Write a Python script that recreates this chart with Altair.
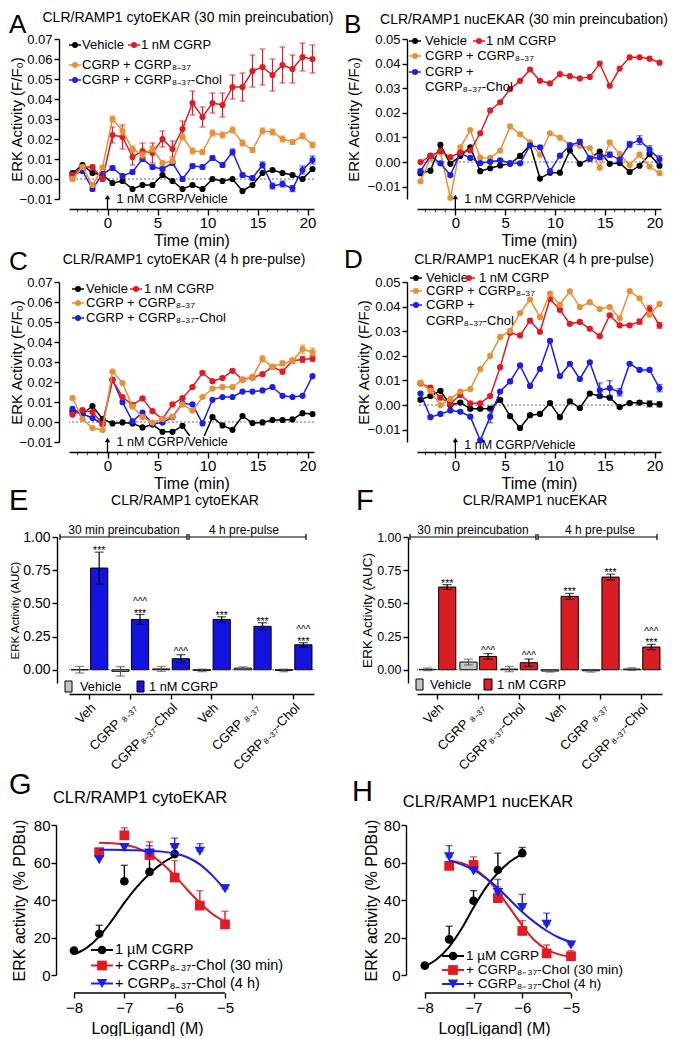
import altair as alt
import pandas as pd

FONT = "Liberation Sans"
BLACK = "#000000"
RED = "#e01b22"
ORANGE = "#ea8f33"
BLUE = "#1c1ee9"
GRAY = "#c4c4c4"
BAR_BLUE = "#1414e0"
BAR_RED = "#d81e22"

# ---------------- time courses (panels A-D) ----------------
TIMES = [-3.5, -2.5, -1.5, -0.5, 0.5, 1.5, 2.5, 3.5, 4.5, 5.5, 6.5, 7.5,
         8.5, 9.5, 10.5, 11.5, 12.5, 13.5, 14.5, 15.5, 16.5, 17.5, 18.5, 19.5, 20.5]
TIME_TICKS = [0, 5, 10, 15, 20]
MINOR_TICKS = [-3, -2, -1, 1, 2, 3, 4, 6, 7, 8, 9, 11, 12, 13, 14, 16, 17, 18, 19]

A_VEH = [0.003, 0.007, 0.003, 0.002, -0.002, -0.001, -0.005, -0.003, -0.003, 0.002, -0.001, -0.005,
         -0.003, -0.005, 0.000, -0.001, 0.000, -0.006, -0.003, 0.003, 0.0045, 0.003, 0.002, 0.000, 0.005]
A_CGRP = [0.002, 0.006, 0.006, 0.000, 0.022, 0.021, 0.011, 0.014, 0.013, 0.020, 0.015, 0.025,
          0.038, 0.031, 0.038, 0.037, 0.046, 0.046, 0.054, 0.056, 0.052, 0.057, 0.055, 0.061, 0.060]
A_CGRP_ERR = [0.001, 0.001, 0.001, 0.001, 0.004, 0.006, 0.004, 0.004, 0.005, 0.004, 0.004, 0.004,
              0.006, 0.005, 0.005, 0.006, 0.006, 0.007, 0.008, 0.009, 0.008, 0.009, 0.007, 0.007, 0.007]
A_837 = [0.000, 0.006, -0.003, 0.0057, 0.030, 0.024, 0.015, 0.012, 0.015, 0.008, 0.009, 0.021,
         0.014, 0.0135, 0.023, 0.022, 0.0245, 0.018, 0.0145, 0.024, 0.0235, 0.020, 0.0185, 0.0215, 0.017]
A_837_ERR = [0.001, 0.001, 0.001, 0.001, 0.0015, 0.002, 0.0015, 0.0015, 0.0015, 0.001, 0.001, 0.0015,
             0.0015, 0.0012, 0.0015, 0.0015, 0.0015, 0.0015, 0.0012, 0.0015, 0.0015, 0.0015, 0.0012, 0.0015, 0.0015]
A_CHOL = [0.002, 0.004, -0.005, 0.0025, 0.0055, 0.0015, 0.0035, 0.010, 0.006, 0.005, 0.008, 0.000,
          0.0065, 0.006, 0.0105, 0.007, 0.0135, 0.002, 0.0005, 0.007, -0.0035, -0.0025, -0.0048, 0.0045, 0.0095]
A_CHOL_ERR = [0.001, 0.001, 0.001, 0.001, 0.001, 0.001, 0.001, 0.001, 0.001, 0.001, 0.001, 0.001,
              0.001, 0.001, 0.001, 0.001, 0.0015, 0.001, 0.001, 0.0015, 0.0015, 0.0015, 0.0015, 0.002, 0.002]

B_VEH = [-0.0045, -0.0035, 0.007, -0.0007, 0.0025, 0.006, -0.0037, -0.0025, -0.0014, -0.0007, 0.0025, 0.007,
         -0.0067, -0.0043, -0.0043, 0.0047, -0.0007, 0.0014, 0.0043, -0.0007, -0.0004, -0.004, -0.0015, 0.0032, -0.0015]
B_CGRP = [0.000, 0.0025, 0.0045, 0.002, 0.004, 0.0047, 0.0117, 0.021, 0.0243, 0.0297, 0.033, 0.0376,
          0.033, 0.032, 0.0357, 0.0349, 0.034, 0.0346, 0.040, 0.031, 0.038, 0.0426, 0.0426, 0.042, 0.0404]
B_837 = [-0.0078, 0.0015, 0.004, -0.0145, 0.006, 0.013, 0.0018, 0.0017, 0.0047, 0.0145, 0.0113, 0.008,
         0.003, 0.0117, 0.0099, 0.007, 0.0065, 0.0057, -0.0023, 0.008, 0.0033, -0.0012, 0.003, -0.0018, -0.0045]
B_CHOL = [-0.0037, 0.0026, -0.0005, -0.0053, 0.0036, 0.0017, -0.0004, 0.0001, 0.0007, -0.0004, -0.0005, 0.0068,
          0.006, -0.0037, 0.0026, 0.0068, 0.0082, 0.0015, 0.002, 0.003, 0.001, 0.0072, 0.0089, 0.0051, 0.0011]
B_CHOL_ERR = [0.0005, 0.0005, 0.0005, 0.0005, 0.0005, 0.0005, 0.0005, 0.0005, 0.0005, 0.0005, 0.0005, 0.0005,
              0.0005, 0.0005, 0.0005, 0.0008, 0.001, 0.0005, 0.001, 0.001, 0.0005, 0.0012, 0.0018, 0.0015, 0.0015]

C_VEH = [0.0054, 0.004, 0.008, 0.0015, -0.0007, -0.0002, -0.0007, -0.0027, -0.0013, -0.0049, -0.0049, -0.0019,
         -0.009, -0.009, 0.0024, -0.0017, -0.0039, 0.003, -0.0005, -0.0002, 0.001, 0.001, 0.0013, 0.0044, 0.004]
C_CGRP = [0.0037, 0.006, 0.005, -0.001, 0.021, 0.0125, 0.0086, 0.0118, 0.0054, 0.0015, 0.0088, 0.012,
          0.0175, 0.0246, 0.0204, 0.022, 0.0256, 0.0212, 0.0222, 0.0239, 0.0276, 0.0252, 0.0306, 0.0313, 0.0318]
C_CGRP_ERR = [0.0005, 0.0005, 0.0005, 0.0005, 0.0005, 0.0005, 0.0005, 0.0005, 0.0005, 0.0005, 0.0005, 0.0005,
              0.0005, 0.0005, 0.0005, 0.0005, 0.0005, 0.001, 0.0008, 0.0008, 0.001, 0.0012, 0.0012, 0.0015, 0.0015]
C_837 = [0.012, 0.0015, -0.003, -0.004, 0.0252, 0.0195, 0.0077, 0.0024, -0.0003, 0.0015, 0.0027, 0.0088,
         0.0057, 0.0125, 0.0167, 0.0175, 0.0175, 0.0212, 0.0226, 0.0316, 0.0276, 0.0293, 0.0306, 0.0364, 0.035]
C_837_ERR = [0.0005, 0.0005, 0.0005, 0.0005, 0.0005, 0.0005, 0.0005, 0.0005, 0.0005, 0.0005, 0.0005, 0.0005,
             0.0005, 0.0005, 0.0005, 0.001, 0.001, 0.001, 0.001, 0.0015, 0.0012, 0.0012, 0.0012, 0.002, 0.002]
C_CHOL = [0.0066, 0.004, 0.002, -0.001, 0.0212, 0.0099, 0.0003, 0.0047, -0.001, -0.0003, 0.0024, 0.0094,
          0.0088, -0.0007, 0.0111, 0.0125, 0.0125, 0.0152, 0.0152, 0.0158, 0.0175, 0.0131, 0.0125, 0.0131, 0.0229]

D_VEH = [0.0022, 0.0037, 0.0058, 0.000, 0.001, -0.0015, -0.0015, -0.0014, 0.0021, -0.0045, -0.0093, -0.0041,
         -0.0036, 0.0008, -0.0049, 0.0015, -0.0012, 0.0047, 0.0037, 0.003, -0.0008, 0.0008, 0.001, 0.0005, 0.0003]
D_VEH_ERR = [0.0005, 0.0005, 0.0005, 0.0005, 0.0005, 0.0005, 0.0005, 0.0005, 0.0005, 0.0005, 0.0005, 0.0005,
             0.0005, 0.0005, 0.0005, 0.0005, 0.0005, 0.0005, 0.0005, 0.0005, 0.0005, 0.0005, 0.0008, 0.0012, 0.001]
D_CGRP = [0.0088, 0.0071, 0.003, 0.0005, 0.0041, 0.0007, 0.0007, 0.0037, 0.0154, 0.0294, 0.0283, 0.0343,
          0.0298, 0.0431, 0.0387, 0.033, 0.0338, 0.031, 0.028, 0.0365, 0.0324, 0.0324, 0.0339, 0.039, 0.0324]
D_CGRP_ERR = [0.0005, 0.0005, 0.0005, 0.0005, 0.0005, 0.0005, 0.0005, 0.0005, 0.0005, 0.0005, 0.0005, 0.0005,
              0.0005, 0.0005, 0.0005, 0.0005, 0.0005, 0.0005, 0.0005, 0.0005, 0.0005, 0.0005, 0.001, 0.0015, 0.0012]
D_837 = [0.0091, 0.0058, 0.000, 0.0025, 0.0055, 0.0065, 0.0146, 0.020, 0.0277, 0.0302, 0.0374, 0.0429,
         0.0357, 0.0453, 0.0408, 0.0462, 0.0398, 0.0418, 0.039, 0.0398, 0.0353, 0.0463, 0.0434, 0.0367, 0.0411]
D_CHOL = [0.0047, -0.0049, -0.0036, -0.0022, -0.0027, -0.0047, -0.0143, -0.0047, 0.0055, 0.0096, 0.0161, 0.0078,
          0.0147, 0.0261, 0.0118, 0.0168, 0.0106, 0.0174, 0.006, 0.0069, 0.0052, 0.0168, 0.0143, 0.0143, 0.0069]
D_CHOL_ERR = [0.0005, 0.0005, 0.0005, 0.0005, 0.0005, 0.0005, 0.0005, 0.0025, 0.0005, 0.0005, 0.0005, 0.0005,
              0.0005, 0.0005, 0.0005, 0.0005, 0.0005, 0.0005, 0.003, 0.003, 0.0015, 0.0005, 0.0005, 0.0005, 0.0015]

# ---------------- AUC bars (panels E-F) ----------------
BAR_CODES = ["p1", "p2", "p3", "h1", "h2", "h3"]
BAR_LABELS = ["Veh", "CGRP ₈₋₃₇", "CGRP₈₋₃₇-Chol", "Veh", "CGRP ₈₋₃₇", "CGRP₈₋₃₇-Chol"]
TREATMENTS = ["Vehicle", "1 nM CGRP"]

E_VEH = [0.000, -0.012, 0.006, -0.005, 0.012, -0.005]
E_VEH_ERR = [0.025, 0.035, 0.018, 0.010, 0.010, 0.010]
E_CGRP = [0.766, 0.379, 0.083, 0.379, 0.327, 0.188]
E_CGRP_ERR = [0.120, 0.037, 0.030, 0.020, 0.027, 0.016]
E_STARS = [True, True, False, True, True, True]
E_CARETS = [False, True, True, False, False, True]

F_VEH = [0.003, 0.058, 0.005, -0.010, -0.008, 0.005]
F_VEH_ERR = [0.010, 0.022, 0.020, 0.008, 0.010, 0.010]
F_CGRP = [0.623, 0.100, 0.053, 0.553, 0.698, 0.171]
F_CGRP_ERR = [0.018, 0.022, 0.028, 0.022, 0.022, 0.020]
F_STARS = [True, False, False, True, True, True]
F_CARETS = [False, True, True, False, False, True]

# ---------------- concentration-response (panels G-H) ----------------
CGRP_X = [-8, -7.5, -7, -6.5, -6]
CHOL_X = [-7.5, -7, -6.5, -6, -5.5, -5]
FIT_CGRP_X = [-8, -7.75, -7.5, -7.25, -7, -6.75, -6.5, -6.25, -6]
FIT_CHOL_X = [-7.5, -7.25, -7, -6.75, -6.5, -6.25, -6, -5.75, -5.5, -5.25, -5]

G_CGRP = [13, 22, 50, 55, 64.5]
G_CGRP_ERR = [0, 4.5, 8.5, 7.5, 1]
G_30 = [65.5, 74.5, 64, 52, 37, 27]
G_30_ERR = [0, 4, 7, 9, 8, 7]
G_4H = [61.5, 68, 65, 68, 66, 46]
G_4H_ERR = [0, 0, 4, 5, 4, 2]
G_FIT_CGRP = [11, 14.5, 20.5, 29, 38.5, 47, 54, 59.5, 63.5]
G_FIT_30 = [70.5, 70.3, 69.5, 67.8, 64.5, 59.5, 53, 45.5, 38.5, 32.5, 28.5]
G_FIT_4H = [66.8, 66.8, 66.7, 66.5, 66.3, 65.8, 64.8, 62.8, 59, 53, 45.5]

H_CGRP = [5, 19, 39.6, 56, 65]
H_CGRP_ERR = [0, 7, 5.4, 9, 3]
H_30 = [58.2, 58.7, 41, 23.5, 11.5, 10]
H_30_ERR = [0, 4.3, 6, 5.5, 4.5, 3]
H_4H = [63, 55.5, 44, 36, 27, 16]
H_4H_ERR = [6, 0, 7, 7, 6, 2]
H_FIT_CGRP = [4.5, 8.5, 15, 24.5, 36, 46.5, 54.5, 60.5, 64.5]
H_FIT_30 = [61, 59.8, 57, 51.8, 44.5, 35.5, 26.4, 18.5, 13.6, 11, 9.8]
H_FIT_4H = [61, 59, 56, 51.8, 46.4, 40, 33.6, 28.2, 23.6, 20, 17.5]

ONE = pd.DataFrame({"k": [0]})


def ax(**kw):
    d = dict(grid=False, domainColor="#000000", tickColor="#000000", labelColor="#000000",
             titleColor="#000000", labelFont=FONT, titleFont=FONT, titleFontWeight="normal",
             domainWidth=1.4, tickWidth=1.4, labelFlush=False, labelOverlap=False)
    d.update(kw)
    return alt.Axis(**d)


def text_at(s, x, y, size, align="left", baseline="alphabetic", color="#000000"):
    return alt.Chart(ONE).mark_text(text=s, align=align, baseline=baseline, fontSize=size,
                                    font=FONT, color=color).encode(x=alt.value(x), y=alt.value(y))


def letter_at(s, x, y, size):
    return text_at(s, x, y, size, baseline="top")


def hline(x1, x2, y, color="#000000", w=1.3):
    return alt.Chart(ONE).mark_rule(color=color, strokeWidth=w).encode(
        x=alt.value(x1), x2=alt.value(x2), y=alt.value(y))


def vline(x, y1, y2, color="#000000", w=1.3):
    return alt.Chart(ONE).mark_rule(color=color, strokeWidth=w).encode(
        x=alt.value(x), y=alt.value(y1), y2=alt.value(y2))


def symbol(x, y, color, shape="circle", size=36):
    return alt.Chart(ONE).mark_point(filled=True, opacity=1, shape=shape, size=size, color=color).encode(
        x=alt.value(x), y=alt.value(y))


def box(x1, x2, y1, y2, fill, stroke=None):
    kw = dict(color=fill)
    if stroke:
        kw.update(stroke=stroke, strokeWidth=1)
    return alt.Chart(ONE).mark_rect(**kw).encode(
        x=alt.value(x1), x2=alt.value(x2), y=alt.value(y1), y2=alt.value(y2))


def time_panel(series, ydom, yticks, width, height, letter, letter_xy, title, title_xy,
               legend, arrow_label_y, ytitle_x, mask=None):
    xs = alt.Scale(domain=[-3.85, 20.65], nice=False, zero=False)
    ys = alt.Scale(domain=ydom, nice=False, zero=False)
    xax = ax(values=TIME_TICKS, title="Time (min)", labelFontSize=15, titleFontSize=16, offset=10,
             tickSize=6, labelPadding=0, titlePadding=2)
    yax = ax(values=yticks, format=".2f", title="ERK Activity (F/F₀)", labelFontSize=13,
             titleFontSize=15, offset=10, tickSize=5, labelPadding=2, titleX=ytitle_x)
    X = alt.X("t:Q", scale=xs, axis=xax)
    layers = [alt.Chart(ONE).mark_rule(color="#444444", strokeWidth=0.8, strokeDash=[2, 2]).encode(
        y=alt.YDatum(0, scale=ys, axis=yax))]
    mdf = pd.DataFrame({"t": MINOR_TICKS})
    layers.append(alt.Chart(mdf).mark_tick(orient="vertical", size=3.5, thickness=1.2, color="#000000").encode(
        x=X, y=alt.value(height + 11.5)))
    for color, vals, errs in series:
        df = pd.DataFrame({"t": TIMES, "v": vals})
        layers.append(alt.Chart(df).mark_line(color=color, strokeWidth=1.5).encode(
            x=X, y=alt.Y("v:Q", scale=ys, axis=yax)))
        if errs is not None:
            edf = pd.DataFrame({"t": TIMES,
                                "lo": [v - e for v, e in zip(vals, errs)],
                                "hi": [v + e for v, e in zip(vals, errs)]})
            layers.append(alt.Chart(edf).mark_errorbar(ticks=True, size=6, thickness=1.2, color=color).encode(
                x=X, y=alt.Y("lo:Q", scale=ys, axis=yax), y2="hi:Q"))
        layers.append(alt.Chart(df).mark_point(filled=True, opacity=1, size=38, color=color).encode(
            x=X, y=alt.Y("v:Q", scale=ys, axis=yax)))
    X0 = alt.XDatum(0, scale=xs, axis=xax)
    layers.append(alt.Chart(ONE).mark_rule(color="#000000", strokeWidth=1.3).encode(
        x=X0, y=alt.value(height + 10), y2=alt.value(height - 2)))
    layers.append(alt.Chart(ONE).mark_point(shape="triangle-up", filled=True, opacity=1, size=28,
                                            color="#000000").encode(x=X0, y=alt.value(height - 2)))
    if mask:
        layers.append(box(*mask, "#ffffff"))
    layers.append(alt.Chart(ONE).mark_text(text="1 nM CGRP/Vehicle", align="left", dx=9, fontSize=12.5,
                                           font=FONT, baseline="alphabetic").encode(
        x=X0, y=alt.value(arrow_label_y)))
    for lab, col, sx, sy, tx in legend:
        if col:
            layers.append(hline(sx - 6, sx + 6, sy, col, 1.5))
            layers.append(symbol(sx, sy, col, "circle", 36))
        layers.append(text_at(lab, tx, sy, 13, baseline="middle"))
    layers.append(text_at(title, title_xy[0], title_xy[1], 14, align="center"))
    layers.append(letter_at(letter, letter_xy[0], letter_xy[1], 26))
    return alt.layer(*layers).properties(width=width, height=height)


def bar_panel(veh_m, veh_e, cg_m, cg_e, stars, carets, color, width, height, letter, letter_xy,
              title, title_xy, ylab_size, ytitle_size, yoff, ytitle_x, swatches, brackets):
    rows = []
    for i, c in enumerate(BAR_CODES):
        rows.append(dict(g=c, tr="Vehicle", m=veh_m[i], lo=veh_m[i] - veh_e[i], hi=veh_m[i] + veh_e[i],
                         st=False, ca=False))
        rows.append(dict(g=c, tr="1 nM CGRP", m=cg_m[i], lo=cg_m[i] - cg_e[i], hi=cg_m[i] + cg_e[i],
                         st=stars[i], ca=carets[i]))
    df = pd.DataFrame(rows)
    expr = " : ".join("datum.value == '%s' ? '%s'" % (c, l) for c, l in zip(BAR_CODES, BAR_LABELS)) + " : ''"
    xax = ax(title=None, labelAngle=315, labelExpr=expr, labelFontSize=13, offset=11, tickSize=5,
             labelPadding=2)
    ys = alt.Scale(domain=[-0.1, 1.0], nice=False, zero=False)
    yax = ax(values=[0, 0.25, 0.5, 0.75, 1.0], format=".2f", title="ERK Activity (AUC)",
             labelFontSize=ylab_size, titleFontSize=ytitle_size, offset=yoff, tickSize=5,
             labelPadding=2, titleX=ytitle_x)
    X = alt.X("g:N", scale=alt.Scale(domain=BAR_CODES, paddingInner=0.1, paddingOuter=0.05), axis=xax)
    XO = alt.XOffset("tr:N", scale=alt.Scale(domain=TREATMENTS, paddingInner=0.12))
    layers = []
    for tr, fc, ec in (("Vehicle", GRAY, "#555555"), ("1 nM CGRP", color, "#000000")):
        sub = df[df["tr"] == tr]
        layers.append(alt.Chart(sub).mark_bar(stroke="#000000", strokeWidth=1, color=fc).encode(
            x=X, xOffset=XO, y=alt.Y("m:Q", scale=ys, axis=yax)))
    layers.append(alt.Chart(ONE).mark_rule(color="#444444", strokeWidth=0.8, strokeDash=[2, 2]).encode(
        y=alt.YDatum(0, scale=ys, axis=yax)))
    for tr, fc, ec in (("Vehicle", GRAY, "#555555"), ("1 nM CGRP", color, "#000000")):
        sub = df[df["tr"] == tr]
        layers.append(alt.Chart(sub).mark_rule(color=ec, strokeWidth=1.2).encode(
            x=X, xOffset=XO, y=alt.Y("lo:Q", scale=ys, axis=yax), y2="hi:Q"))
        for f in ("lo", "hi"):
            layers.append(alt.Chart(sub).mark_tick(orient="horizontal", size=9, thickness=1.2, color=ec).encode(
                x=X, xOffset=XO, y=alt.Y(f + ":Q", scale=ys, axis=yax)))
    st = df[df["st"]]
    layers.append(alt.Chart(st).mark_text(text="***", fontSize=10.5, font=FONT, dy=2, baseline="alphabetic").encode(
        x=X, xOffset=XO, y=alt.Y("hi:Q", scale=ys, axis=yax)))
    ca1 = df[df["ca"] & df["st"]]
    ca2 = df[df["ca"] & ~df["st"]]
    layers.append(alt.Chart(ca1).mark_text(text="^^^", fontSize=10, font=FONT, dy=-9.6, baseline="alphabetic").encode(
        x=X, xOffset=XO, y=alt.Y("hi:Q", scale=ys, axis=yax)))
    layers.append(alt.Chart(ca2).mark_text(text="^^^", fontSize=10, font=FONT, dy=0, baseline="alphabetic").encode(
        x=X, xOffset=XO, y=alt.Y("hi:Q", scale=ys, axis=yax)))
    for x1, x2, y1, y2, fill, lab, tx, ty in swatches:
        layers.append(box(x1, x2, y1, y2, fill, "#000000"))
        layers.append(text_at(lab, tx, ty, 12.8, baseline="middle"))
    for (x1, x2), (lab, cx) in brackets:
        layers.append(hline(x1, x2, 0, "#000000", 1.2))
        layers.append(vline(x1, -3, 3, "#000000", 1.2))
        layers.append(vline(x2, -3, 3, "#000000", 1.2))
        layers.append(text_at(lab, cx, -3.5, 12, align="center"))
    layers.append(text_at(title, title_xy[0], title_xy[1], 14, align="center"))
    layers.append(letter_at(letter, letter_xy[0], letter_xy[1], 29))
    return alt.layer(*layers).properties(width=width, height=height)


def dose_panel(series, xmin, width, height, yoff, ytitle_x, sh, letter, letter_xy, title, title_xy,
               legend_size, legend_ys):
    xs = alt.Scale(domain=[xmin, -5], nice=False, zero=False)
    ys = alt.Scale(domain=[0, 80], nice=False, zero=False)
    xax = ax(values=[-8, -7, -6, -5], format="d", title="Log[Ligand] (M)", labelFontSize=15,
             titleFontSize=16, offset=18, tickSize=5, labelPadding=2, titlePadding=5, domain=False)
    yax = ax(values=[0, 20, 40, 60, 80], format="d", title="ERK activity (% PDBu)", labelFontSize=15,
             titleFontSize=16, offset=yoff, tickSize=5, labelPadding=1, titleX=ytitle_x)
    adf = pd.DataFrame({"a": [-8], "b": [-5]})
    layers = [alt.Chart(adf).mark_rule(color="#000000", strokeWidth=1.4).encode(
        x=alt.X("a:Q", scale=xs, axis=xax), x2="b:Q", y=alt.value(height + 18))]
    for color, shape, size, fx, fy, px, pm, pe, lab in series:
        fdf = pd.DataFrame({"x": fx, "y": fy})
        layers.append(alt.Chart(fdf).mark_line(color=color, strokeWidth=2, interpolate="monotone").encode(
            x=alt.X("x:Q", scale=xs, axis=xax), y=alt.Y("y:Q", scale=ys, axis=yax)))
        pdf = pd.DataFrame({"x": px, "m": pm, "hi": [m + e for m, e in zip(pm, pe)], "e": pe})
        edf = pdf[pdf["e"] > 0]
        layers.append(alt.Chart(edf).mark_errorbar(ticks=True, size=7, thickness=1.4, color=color).encode(
            x=alt.X("x:Q", scale=xs, axis=xax), y=alt.Y("m:Q", scale=ys, axis=yax), y2="hi:Q"))
        layers.append(alt.Chart(pdf).mark_point(filled=True, opacity=1, shape=shape, size=size, color=color).encode(
            x=alt.X("x:Q", scale=xs, axis=xax), y=alt.Y("m:Q", scale=ys, axis=yax)))
    for (color, shape, size, fx, fy, px, pm, pe, lab), sy in zip(series, legend_ys):
        layers.append(hline(sh + 17, sh + 39, sy, color, 2))
        layers.append(symbol(sh + 28, sy, color, shape, size))
        layers.append(text_at(lab, sh + 41, sy, legend_size, baseline="middle"))
    layers.append(text_at(title, title_xy[0], title_xy[1], 16.5, align="center"))
    layers.append(letter_at(letter, letter_xy[0], letter_xy[1], 29))
    return alt.layer(*layers).properties(width=width, height=height)


YT_A = [-0.01, 0.0, 0.01, 0.02, 0.03, 0.04, 0.05, 0.06, 0.07]
YT_B = [-0.01, 0.0, 0.01, 0.02, 0.03, 0.04, 0.05]
L837 = "CGRP + CGRP₈₋₃₇"
LCHOL = "CGRP + CGRP₈₋₃₇-Chol"

pA = time_panel([(BLACK, A_VEH, None), (BLUE, A_CHOL, A_CHOL_ERR), (RED, A_CGRP, A_CGRP_ERR),
                 (ORANGE, A_837, A_837_ERR)],
                [-0.01, 0.07], YT_A, 245, 160, "A", (-60, -27),
                "CLR/RAMP1 cytoEKAR (30 min preincubation)", (119, -17),
                [("Vehicle", BLACK, 6, 6, 13), ("1 nM CGRP", RED, 65, 6, 72),
                 (L837, ORANGE, 6, 26, 13), (LCHOL, BLUE, 6, 41, 13)], 164, -35)
pB = time_panel([(BLACK, B_VEH, None), (ORANGE, B_837, None), (BLUE, B_CHOL, B_CHOL_ERR),
                 (RED, B_CGRP, None)],
                [-0.015, 0.05], YT_B, 244, 160, "B", (-73, -27),
                "CLR/RAMP1 nucEKAR (30 min preincubation)", (107, -15),
                [("Vehicle", BLACK, -2, 2, 8), ("1 nM CGRP", RED, 62, 2, 69),
                 (L837, ORANGE, -2, 17, 8), ("CGRP +", BLUE, -2, 33, 8),
                 ("CGRP₈₋₃₇-Chol", None, 0, 48, 8)], 164, -46)
pC = time_panel([(BLACK, C_VEH, None), (BLUE, C_CHOL, None), (RED, C_CGRP, C_CGRP_ERR),
                 (ORANGE, C_837, C_837_ERR)],
                [-0.01, 0.07], YT_A, 245, 160, "C", (-60, -33),
                "CLR/RAMP1 cytoEKAR (4 h pre-pulse)", (115, -18),
                [("Vehicle", BLACK, 9, 7, 17), ("1 nM CGRP", RED, 67, 7, 75),
                 (L837, ORANGE, 9, 21, 17), (LCHOL, BLUE, 9, 36, 17)], 164, -35,
                mask=(46, 166, 154, 168))
pD = time_panel([(BLACK, D_VEH, D_VEH_ERR), (BLUE, D_CHOL, D_CHOL_ERR), (RED, D_CGRP, D_CGRP_ERR),
                 (ORANGE, D_837, None)],
                [-0.015, 0.05], YT_B, 244, 160, "D", (-73, -35),
                "CLR/RAMP1 nucEKAR (4 h pre-pulse)", (117, -18),
                [("Vehicle", BLACK, -1, -4, 9), ("1 nM CGRP", RED, 52, -4, 62),
                 (L837, ORANGE, -1, 9, 9), ("CGRP +", BLUE, -1, 23, 9),
                 ("CGRP₈₋₃₇-Chol", None, 0, 39, 9)], 167, -36)

pE = bar_panel(E_VEH, E_VEH_ERR, E_CGRP, E_CGRP_ERR, E_STARS, E_CARETS, BAR_BLUE, 245, 146,
               "E", (-60, -50), "CLR/RAMP1 cytoEKAR", (116, -32), 14, 11.5, 12, -37,
               [(-4, 3, 144, 155, GRAY, "Vehicle", 11, 150), (68, 75, 144, 155, BAR_BLUE, "1 nM CGRP", 80, 150)],
               [((-9, 118), ("30 min preincubation", 55)), ((120, 237), ("4 h pre-pulse", 175))])
pF = bar_panel(F_VEH, F_VEH_ERR, F_CGRP, F_CGRP_ERR, F_STARS, F_CARETS, BAR_RED, 245, 146,
               "F", (-61, -50), "CLR/RAMP1 nucEKAR", (118, -32), 12.5, 13.5, 9, -34,
               [(-1, 6, 142, 153, GRAY, "Vehicle", 13, 148), (67, 75, 142, 153, BAR_RED, "1 nM CGRP", 80, 148)],
               [((-7, 119), ("30 min preincubation", 56)), ((121, 240), ("4 h pre-pulse", 183))])

L_CGRP = "1 µM CGRP"
L_30 = "+ CGRP₈₋₃₇-Chol (30 min)"
L_4H = "+ CGRP₈₋₃₇-Chol (4 h)"
pG = dose_panel([(BLACK, "circle", 75, FIT_CGRP_X, G_FIT_CGRP, CGRP_X, G_CGRP, G_CGRP_ERR, L_CGRP),
                 (RED, "square", 95, FIT_CHOL_X, G_FIT_30, CHOL_X, G_30, G_30_ERR, L_30),
                 (BLUE, "triangle-down", 110, FIT_CHOL_X, G_FIT_4H, CHOL_X, G_4H, G_4H_ERR, L_4H)],
                -8.1, 156, 150, 13, -29, 5, "G", (-60, -54), "CLR/RAMP1 cytoEKAR", (71, -22), 14.5,
                [125, 140.5, 158.5])
pH = dose_panel([(BLACK, "circle", 75, FIT_CGRP_X, H_FIT_CGRP, CGRP_X, H_CGRP, H_CGRP_ERR, L_CGRP),
                 (RED, "square", 95, FIT_CHOL_X, H_FIT_30, CHOL_X, H_30, H_30_ERR, L_30),
                 (BLUE, "triangle-down", 110, FIT_CHOL_X, H_FIT_4H, CHOL_X, H_4H, H_4H_ERR, L_4H)],
                -8.16, 154, 150, 11, -27, 8, "H", (-65, -47), "CLR/RAMP1 nucEKAR", (71, -18), 13.5,
                [131, 145, 159])


def spacer(h):
    return alt.Chart(ONE).mark_point(opacity=0).encode(
        x=alt.value(0), y=alt.value(0)).properties(width=1, height=h)


chart = alt.concat(
    pA, pB,
    spacer(83), spacer(83),
    pC, pD,
    spacer(95), spacer(95),
    pE, pF,
    spacer(142), spacer(142),
    pG, pH,
    columns=2, spacing={"row": 0, "column": 103}, bounds="flush",
).properties(
    padding={"left": 0, "top": 3, "right": 0, "bottom": 0}
).configure(
    font=FONT, view=alt.ViewConfig(stroke=None, strokeWidth=0)
)

chart.save("out.html", embed_options={"renderer": "svg", "actions": False})
